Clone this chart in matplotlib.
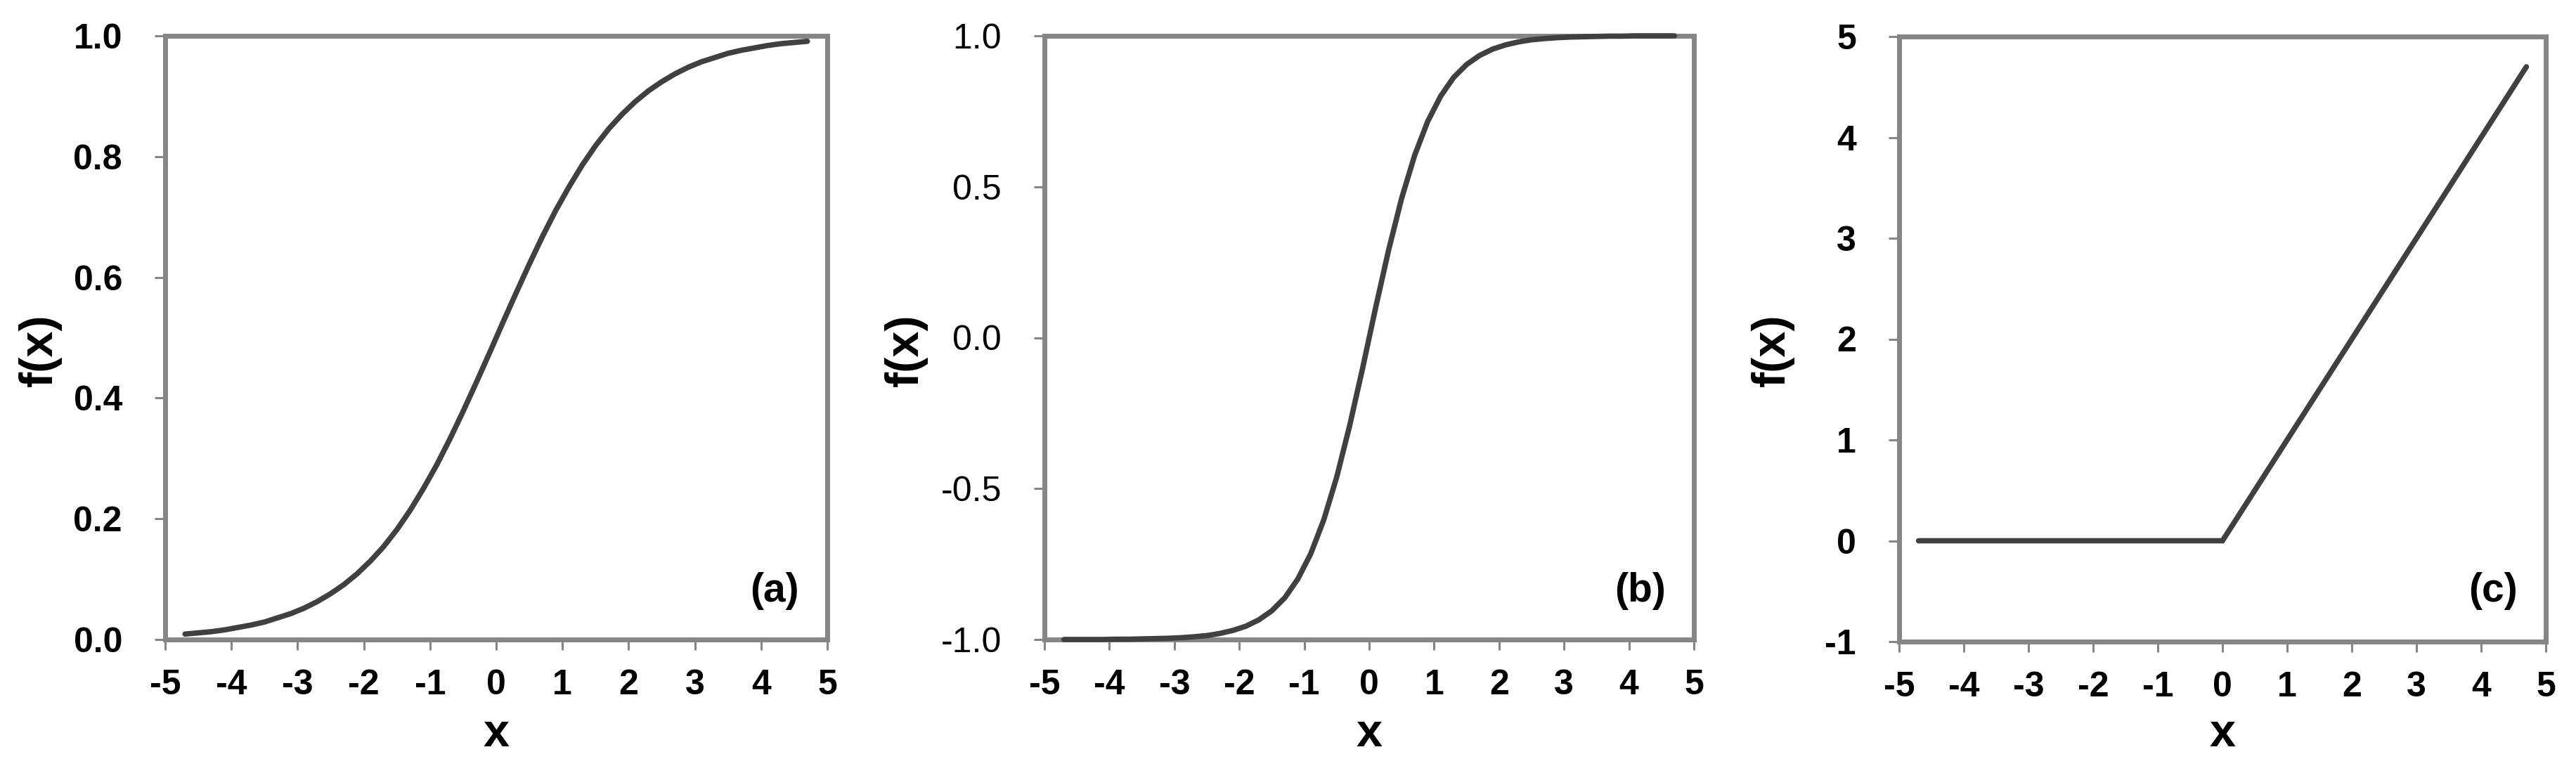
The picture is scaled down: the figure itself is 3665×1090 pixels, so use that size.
#!/usr/bin/env python3
"""
Three activation functions side by side: logistic sigmoid, tanh and ReLU.
"""

import matplotlib
matplotlib.use("Agg")
import matplotlib.pyplot as plt
from matplotlib.ticker import FormatStrFormatter


# ============================================================
# DATA
# ============================================================

x_curve = [-4.7, -4.5, -4.3, -4.1, -3.9, -3.7, -3.5, -3.3, -3.1, -2.9,
           -2.7, -2.5, -2.3, -2.1, -1.9, -1.7, -1.5, -1.3, -1.1, -0.9,
           -0.7, -0.5, -0.3, -0.1, 0.1, 0.3, 0.5, 0.7, 0.9, 1.1,
           1.3, 1.5, 1.7, 1.9, 2.1, 2.3, 2.5, 2.7, 2.9, 3.1,
           3.3, 3.5, 3.7, 3.9, 4.1, 4.3, 4.5, 4.7]

sigmoid_y = [0.009, 0.011, 0.013, 0.016, 0.020, 0.024, 0.029, 0.036, 0.043, 0.052,
             0.063, 0.076, 0.091, 0.109, 0.130, 0.154, 0.182, 0.214, 0.250, 0.289,
             0.332, 0.378, 0.426, 0.475, 0.525, 0.574, 0.622, 0.668, 0.711, 0.750,
             0.786, 0.818, 0.846, 0.870, 0.891, 0.909, 0.924, 0.937, 0.948, 0.957,
             0.964, 0.971, 0.976, 0.980, 0.984, 0.987, 0.989, 0.991]

tanh_y = [-1.000, -1.000, -1.000, -1.000, -0.999, -0.999, -0.998, -0.997, -0.996, -0.994,
          -0.991, -0.987, -0.980, -0.970, -0.956, -0.935, -0.905, -0.862, -0.800, -0.716,
          -0.604, -0.462, -0.291, -0.100, 0.100, 0.291, 0.462, 0.604, 0.716, 0.800,
          0.862, 0.905, 0.935, 0.956, 0.970, 0.980, 0.987, 0.991, 0.994, 0.996,
          0.997, 0.998, 0.999, 0.999, 1.000, 1.000, 1.000, 1.000]

relu_x = [-4.7, 0.0, 4.7]
relu_y = [0.0, 0.0, 4.7]

x_ticks = [-5, -4, -3, -2, -1, 0, 1, 2, 3, 4, 5]
y_ticks_a = [0.0, 0.2, 0.4, 0.6, 0.8, 1.0]
y_ticks_b = [-1.0, -0.5, 0.0, 0.5, 1.0]
y_ticks_c = [-1, 0, 1, 2, 3, 4, 5]

panel_tags = ["(a)", "(b)", "(c)"]


# ============================================================
# STYLE
# ============================================================

plt.rcParams["font.family"] = ["Liberation Sans", "DejaVu Sans"]
plt.rcParams["axes.unicode_minus"] = False   # plain hyphen, as in the reference

W, H = 3665, 1090
DPI = 100

spine_grey = "#868686"
line_grey = "#404040"


def style_axes(ax, y_ticks, y_fmt, y_bold=True):
    for side in ("left", "right", "top", "bottom"):
        ax.spines[side].set_color(spine_grey)
        ax.spines[side].set_linewidth(5)
        ax.spines[side].set_zorder(1)

    ax.set_xlim(-5, 5)
    ax.set_xticks(x_ticks)
    ax.set_yticks(y_ticks)
    ax.set_ylim(y_ticks[0], y_ticks[-1])
    ax.yaxis.set_major_formatter(FormatStrFormatter(y_fmt))

    ax.tick_params(axis="both", direction="out", length=11, width=2.2,
                   color=spine_grey, labelcolor="black", labelsize=36)
    ax.tick_params(axis="x", pad=19)
    ax.tick_params(axis="y", pad=33)

    for lab in ax.get_xticklabels():
        lab.set_fontweight("bold")
    for lab in ax.get_yticklabels():
        lab.set_fontweight("bold" if y_bold else "normal")


# ============================================================
# FIGURE
# ============================================================

fig = plt.figure(figsize=(W / DPI, H / DPI), dpi=DPI)

# axes boxes in pixels: left, right, top, bottom
boxes = [
    (235, 1177, 51, 910),
    (1486, 2410, 51, 910),
    (2702, 3622, 52, 913),
]

axes = []
for (l, r, t, b) in boxes:
    ax = fig.add_axes([l / W, (H - b) / H, (r - l) / W, (b - t) / H])
    axes.append(ax)

ax_a, ax_b, ax_c = axes

ax_a.plot(x_curve, sigmoid_y, color=line_grey, lw=5.5, clip_on=False,
          solid_capstyle="round", zorder=3)
style_axes(ax_a, y_ticks_a, "%.1f")

ax_b.plot(x_curve, tanh_y, color=line_grey, lw=5.5, clip_on=False,
          solid_capstyle="round", zorder=3)
style_axes(ax_b, y_ticks_b, "%.1f", y_bold=False)

ax_c.plot(relu_x, relu_y, color=line_grey, lw=5.5, clip_on=False,
          solid_capstyle="round", solid_joinstyle="miter", zorder=3)
style_axes(ax_c, y_ticks_c, "%d")

# axis labels, placed like the reference
ylabel_gap = [147, 166, 149]   # px from left spine to right edge of label
for ax, (l, r, t, b), gap, tag in zip(axes, boxes, ylabel_gap, panel_tags):
    ax.set_ylabel("f(x)", fontsize=48, fontweight="bold")
    ax.yaxis.set_label_coords(-gap / (r - l), (b - 498) / (b - t))

    ax.set_xlabel("x", fontsize=48, fontweight="bold")
    ax.xaxis.label.set_verticalalignment("top")
    ax.xaxis.set_label_coords(0.5, -(1014 - b) / (b - t))

    ax.text(1 - 40 / (r - l), (b - 841) / (b - t), tag, transform=ax.transAxes,
            ha="right", va="center", fontsize=41, fontweight="bold")

fig.savefig("out.png", dpi=DPI, facecolor="white")
